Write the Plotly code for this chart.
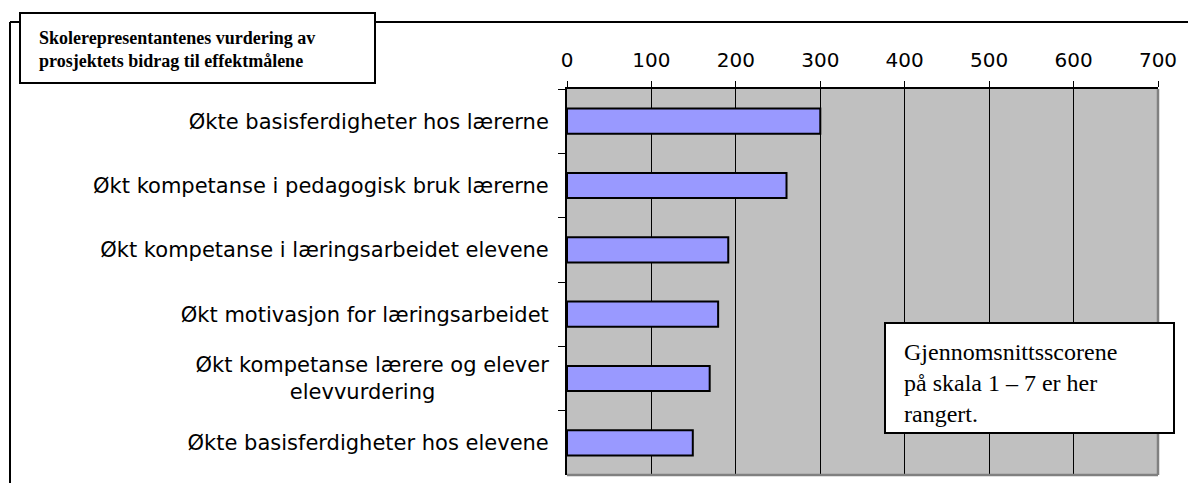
import plotly.graph_objects as go

categories = [
    'Økte basisferdigheter hos lærerne',
    'Økt kompetanse i pedagogisk bruk lærerne',
    'Økt kompetanse i læringsarbeidet elevene',
    'Økt motivasjon for læringsarbeidet',
    'Økt kompetanse lærere og elever<br>elevvurdering' + '\u00a0' * 17,
    'Økte basisferdigheter hos elevene',
]
values = [300, 260, 191, 179, 169, 149]
tick_vals = [0, 100, 200, 300, 400, 500, 600, 700]

# the page body has an 8px margin, so work in screen pixels and shift
OFF = 8
W, H = 1196 - OFF, 483 - OFF
L, R, T, B = 567, 1158, 89, 475  # plot area in screen pixels


def px(x):
    return (x - L) / (R - L)


def py(y):
    return (B - y) / (B - T)


fig = go.Figure()

fig.add_trace(go.Bar(
    x=values,
    y=categories,
    orientation='h',
    marker=dict(color='#9999ff', line=dict(color='black', width=2)),
    width=0.39,
))

shapes = [
    # outer frame (top and left only)
    dict(type='line', xref='paper', yref='paper', x0=px(10), x1=px(1200), y0=py(22), y1=py(22),
         line=dict(color='black', width=2)),
    dict(type='line', xref='paper', yref='paper', x0=px(10), x1=px(10), y0=py(22), y1=py(490),
         line=dict(color='black', width=2)),
    # plot border right / bottom
    dict(type='line', xref='paper', yref='paper', x0=1, x1=1, y0=0, y1=1,
         line=dict(color='#808080', width=2.5), layer='above'),
    dict(type='line', xref='paper', yref='paper', x0=0, x1=1, y0=0, y1=0,
         line=dict(color='#808080', width=2.5), layer='above'),
    # title box
    dict(type='rect', xref='paper', yref='paper', x0=px(20), x1=px(375), y0=py(13), y1=py(83),
         fillcolor='white', line=dict(color='black', width=2), layer='above'),
    # note box
    dict(type='rect', xref='paper', yref='paper', x0=px(885), x1=px(1174), y0=py(323), y1=py(433),
         fillcolor='white', line=dict(color='black', width=2), layer='above'),
]

annotations = [
    dict(xref='paper', yref='paper', x=px(37), y=py(49), xanchor='left', yanchor='middle',
         text='<b>Skolerepresentantenes vurdering av<br>prosjektets bidrag til effektmålene</b>',
         showarrow=False, align='left',
         font=dict(family='Liberation Serif', size=18, color='black')),
    dict(xref='paper', yref='paper', x=px(902), y=py(383), xanchor='left', yanchor='middle',
         text='Gjennomsnittsscorene<br>på skala 1 – 7 er her<br>rangert.',
         showarrow=False, align='left',
         font=dict(family='Liberation Serif', size=24, color='black')),
]

fig.update_layout(
    width=W, height=H,
    margin=dict(l=L - OFF, r=W - (R - OFF), t=T - OFF, b=H - (B - OFF), pad=0),
    paper_bgcolor='white',
    plot_bgcolor='#c0c0c0',
    showlegend=False,
    shapes=shapes,
    annotations=annotations,
    xaxis=dict(
        side='top',
        range=[0, 700],
        tickvals=tick_vals,
        ticks='outside', ticklen=6, tickcolor='black',
        showgrid=True, gridcolor='black', gridwidth=1,
        showline=True, linecolor='black', linewidth=2,
        zeroline=False,
        ticklabelstandoff=6,
        tickfont=dict(family='DejaVu Sans', size=20, color='black'),
    ),
    yaxis=dict(
        categoryorder='array', categoryarray=categories,
        autorange='reversed',
        ticks='outside', ticklen=7, tickcolor='black', tickson='boundaries',
        showline=True, linecolor='black', linewidth=2,
        showgrid=False,
        ticklabelstandoff=12,
        tickfont=dict(family='DejaVu Sans', size=21, color='black'),
    ),
)

fig.write_html('out.html')
